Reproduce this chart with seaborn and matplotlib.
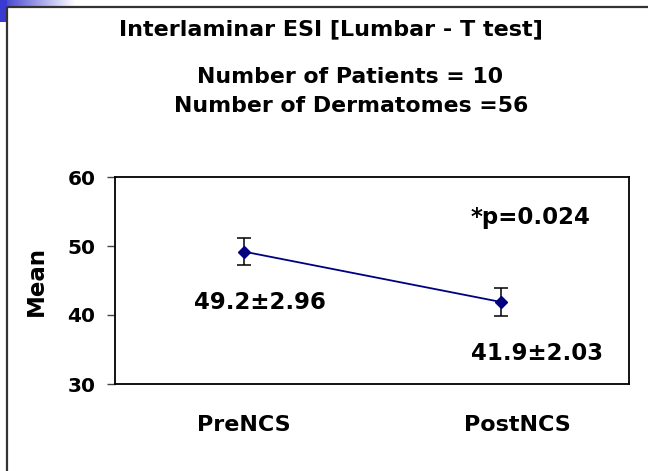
import numpy as np
import pandas as pd
import matplotlib
matplotlib.use("Agg")
import matplotlib.pyplot as plt
import matplotlib.transforms as mtransforms
import seaborn as sns

categories = ["PreNCS", "PostNCS"]
means = [49.2, 41.9]
errors = [2.0, 2.0]
value_labels = ["49.2\u00b12.96", "41.9\u00b12.03"]
title_lines = ["Interlaminar ESI [Lumbar - T test]", "Number of Patients = 10", "Number of Dermatomes =56"]
p_text = "*p=0.024"
y_ticks = [30, 40, 50, 60]

sns.set_theme(style="white")
plt.rcParams['font.family'] = ['DejaVu Sans']
plt.rcParams['text.color'] = 'black'
plt.rcParams['axes.labelcolor'] = 'black'
plt.rcParams['xtick.color'] = 'black'
plt.rcParams['ytick.color'] = 'black'

W, H = 648, 471
fig = plt.figure(figsize=(W / 100, H / 100), dpi=100)

# top-left gradient decoration and frame
gax = fig.add_axes([0, 0, 1, 1], zorder=-5)
gax.set_xlim(0, W)
gax.set_ylim(H, 0)
gax.axis("off")
grad = np.linspace(0, 1, 200)[None, :]
cmap = matplotlib.colors.LinearSegmentedColormap.from_list("g", ["#3a3ad0", "#ffffff"])
gax.imshow(grad, extent=[0, 75, 7, 0], cmap=cmap, aspect="auto")
gax.add_patch(plt.Rectangle((0, 0), 7, 22, color="#3a3ad0", lw=0))
gax.plot([6.5, 6.5], [6.5, H], color="#333333", lw=1.6, solid_capstyle="butt")
gax.plot([6.5, W], [6.5, 6.5], color="#333333", lw=1.6, solid_capstyle="butt")

ax = fig.add_axes([115 / W, 1 - 384 / H, (629 - 115) / W, (384 - 177) / H])
df = pd.DataFrame({"cat": categories, "mean": means})
sns.pointplot(data=df, x="cat", y="mean", order=categories, color="#000080",
              markers="D", markersize=6.5, linewidth=1.3, errorbar=None, ax=ax)
ax.errorbar(range(len(categories)), means, yerr=errors, fmt="none", ecolor="black",
            elinewidth=1.1, capsize=4.7, capthick=1.1, zorder=1)

ax.set_xlim(-0.5, 1.5)
ax.set_ylim(30, 60)
ax.set_yticks(y_ticks)
ax.set_xlabel("")
ax.set_ylabel("Mean", fontsize=16.5, fontweight="bold", labelpad=14)
for s in ax.spines.values():
    s.set_color("black")
    s.set_linewidth(1.3)
ax.tick_params(axis="y", which="both", left=True, length=6, width=1, color="#444444",
               labelsize=14.5, pad=8)
ax.tick_params(axis="x", bottom=False, labelsize=16, pad=16)
for lab in ax.get_yticklabels():
    lab.set_fontweight("bold")
for i, lab in enumerate(ax.get_xticklabels()):
    lab.set_fontweight("bold")
    if i == 1:
        lab.set_transform(lab.get_transform() + mtransforms.ScaledTranslation(0.17, 0, fig.dpi_scale_trans))

# value annotations
ax.text(0.064, 41.75, value_labels[0], ha="center", va="center", fontsize=16.5, fontweight="bold")
ax.text(1.142, 34.35, value_labels[1], ha="center", va="center", fontsize=16.5, fontweight="bold")
ax.text(1.115, 54.1, p_text, ha="center", va="center", fontsize=16.5, fontweight="bold")

fig.text(331 / W, 1 - 29 / H, title_lines[0], ha="center", va="center", fontsize=16, fontweight="bold")
fig.text(350 / W, 1 - 77 / H, title_lines[1], ha="center", va="center", fontsize=15.8, fontweight="bold")
fig.text(351 / W, 1 - 106 / H, title_lines[2], ha="center", va="center", fontsize=15.8, fontweight="bold")

fig.savefig("out.png", dpi=100)
